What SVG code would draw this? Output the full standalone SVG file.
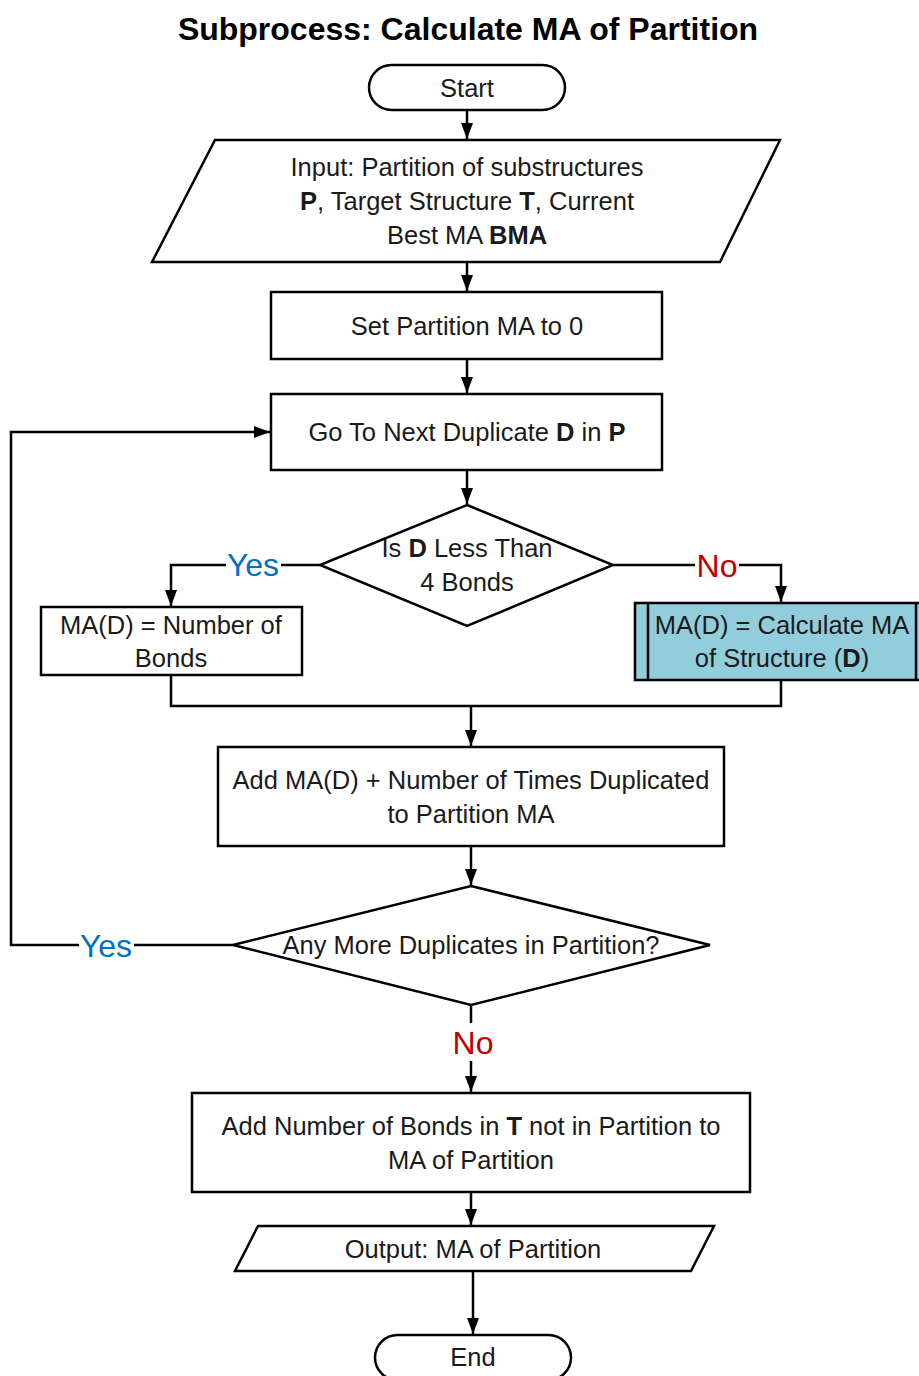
<svg xmlns="http://www.w3.org/2000/svg" width="919" height="1376" viewBox="0 0 919 1376">
<style>
.s{fill:#fff;stroke:#000;stroke-width:2.5}
.t{font-family:"Liberation Sans",Arial,sans-serif;font-size:25.5px;fill:#1a1a1a;text-anchor:middle}
.c{fill:none;stroke:#000;stroke-width:2.5}
.yes{font-family:"Liberation Sans",Arial,sans-serif;font-size:32px;fill:#0070C0;text-anchor:middle}
.no{font-family:"Liberation Sans",Arial,sans-serif;font-size:32px;fill:#C00000;text-anchor:middle}
.b{font-weight:bold}
</style>
<defs>
<marker id="ah" markerWidth="16" markerHeight="12" refX="16" refY="6" orient="auto" markerUnits="userSpaceOnUse">
<path d="M0,0 L16,6 L0,12 Z" fill="#000"/>
</marker>
</defs>
<rect width="919" height="1376" fill="#fff"/>
<text x="468" y="40" font-family="Liberation Sans,Arial,sans-serif" font-size="32" font-weight="bold" text-anchor="middle" fill="#000">Subprocess: Calculate MA of Partition</text>

<g id="connectors">
<path class="c" d="M467,110 V139" marker-end="url(#ah)"/>
<path class="c" d="M467,262 V291" marker-end="url(#ah)"/>
<path class="c" d="M467,359 V393" marker-end="url(#ah)"/>
<path class="c" d="M467,470 V504" marker-end="url(#ah)"/>
<path class="c" d="M320,565 H171 V606" marker-end="url(#ah)"/>
<path class="c" d="M613,565 H781 V602" marker-end="url(#ah)"/>
<path class="c" d="M171,675 V706 H781 V680"/>
<path class="c" d="M471,706 V746" marker-end="url(#ah)"/>
<path class="c" d="M471,846 V885" marker-end="url(#ah)"/>
<path class="c" d="M233,945 H11 V432 H270" marker-end="url(#ah)"/>
<path class="c" d="M471,1005 V1092" marker-end="url(#ah)"/>
<path class="c" d="M471,1192 V1225" marker-end="url(#ah)"/>
<path class="c" d="M473,1271 V1334" marker-end="url(#ah)"/>
<rect x="226" y="548" width="55" height="34" fill="#fff"/>
<text class="yes" x="253" y="576">Yes</text>
<rect x="695" y="548" width="44" height="34" fill="#fff"/>
<text class="no" x="717" y="577">No</text>
<rect x="79" y="928" width="55" height="34" fill="#fff"/>
<text class="yes" x="106" y="957">Yes</text>
<rect x="450" y="1023" width="46" height="38" fill="#fff"/>
<text class="no" x="473" y="1054">No</text>
</g>

<g id="start">
<rect class="s" x="369" y="65" width="196" height="45" rx="22.5"/>
<text class="t" x="467" y="97">Start</text>
</g>

<g id="input">
<polygon class="s" points="215,140 780,140 720,262 152,262"/>
<text class="t" x="467" y="176">Input: Partition of substructures</text>
<text class="t" x="467" y="210"><tspan class="b">P</tspan>, Target Structure <tspan class="b">T</tspan>, Current</text>
<text class="t" x="467" y="244">Best MA <tspan class="b">BMA</tspan></text>
</g>

<g id="setpartition">
<rect class="s" x="271" y="292" width="391" height="67"/>
<text class="t" x="467" y="335">Set Partition MA to 0</text>
</g>

<g id="gonext">
<rect class="s" x="271" y="394" width="391" height="76"/>
<text class="t" x="467" y="441">Go To Next Duplicate <tspan class="b">D</tspan> in <tspan class="b">P</tspan></text>
</g>

<g id="decision1">
<polygon class="s" points="467,505 613,565 467,626 320,565"/>
<text class="t" x="467" y="557">Is <tspan class="b">D</tspan> Less Than</text>
<text class="t" x="467" y="591">4 Bonds</text>
</g>

<g id="numbonds">
<rect class="s" x="41" y="607" width="261" height="68"/>
<text class="t" x="171" y="634">MA(D) = Number of</text>
<text class="t" x="171" y="667">Bonds</text>
</g>

<g id="calcma">
<rect x="635" y="603" width="290" height="77" fill="#92CDDC" stroke="#000" stroke-width="2.5"/>
<line x1="648" y1="603" x2="648" y2="680" stroke="#000" stroke-width="2.5"/>
<line x1="916" y1="603" x2="916" y2="680" stroke="#000" stroke-width="2.5"/>
<text class="t" x="782" y="634">MA(D) = Calculate MA</text>
<text class="t" x="782" y="667">of Structure (<tspan class="b">D</tspan>)</text>
</g>

<g id="addma">
<rect class="s" x="218" y="747" width="506" height="99"/>
<text class="t" x="471" y="789">Add MA(D) + Number of Times Duplicated</text>
<text class="t" x="471" y="823">to Partition MA</text>
</g>

<g id="decision2">
<polygon class="s" points="471,886 710,945 471,1005 233,945"/>
<text class="t" x="471" y="954">Any More Duplicates in Partition?</text>
</g>

<g id="addbonds">
<rect class="s" x="192" y="1093" width="558" height="99"/>
<text class="t" x="471" y="1135">Add Number of Bonds in <tspan class="b">T</tspan> not in Partition to</text>
<text class="t" x="471" y="1169">MA of Partition</text>
</g>

<g id="output">
<polygon class="s" points="258,1226 714,1226 691,1271 235,1271"/>
<text class="t" x="473" y="1258">Output: MA of Partition</text>
</g>

<g id="end">
<rect class="s" x="375" y="1335" width="196" height="45" rx="22.5"/>
<text class="t" x="473" y="1366">End</text>
</g>
</svg>
